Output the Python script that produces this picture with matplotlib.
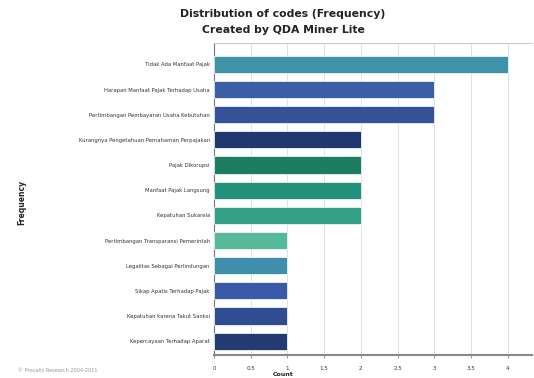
import matplotlib
matplotlib.use('Agg')
import matplotlib.pyplot as plt
import numpy as np

######################################################################
# data
codes = ['Tidak Ada Manfaat Pajak',
         'Harapan Manfaat Pajak Terhadap Usaha',
         'Pertimbangan Pembayaran Usaha Kebutuhan',
         'Kurangnya Pengetahuan Pemahaman Perpajakan',
         'Pajak Dikorupsi',
         'Manfaat Pajak Langsung',
         'Kepatuhan Sukarela',
         'Pertimbangan Transparansi Pemerintah',
         'Legalitas Sebagai Perlindungan',
         'Sikap Apatis Terhadap Pajak',
         'Kepatuhan karena Takut Sanksi',
         'Kepercayaan Terhadap Aparat']
counts = [4, 3, 3, 2, 2, 2, 2, 1, 1, 1, 1, 1]
bar_colors = ['#3f93a6', '#3a5fa6', '#34519a', '#21386e', '#1c7d60',
              '#23917a', '#32a085', '#55b99a', '#3f8fab', '#3a5aa8',
              '#2f4d90', '#233b70']
x_ticks = [0, 0.5, 1, 1.5, 2, 2.5, 3, 3.5, 4]
x_tick_labels = ['0', '0.5', '1', '1.5', '2', '2.5', '3', '3.5', '4']

######################################################################
fig = plt.figure(figsize=(5.34, 3.78), dpi=100)
ax = fig.add_axes([214 / 534, (378 - 355) / 378, 318 / 534, (355 - 43) / 378])

pos = np.arange(len(codes))
ax.barh(pos, counts, height=0.68, color=bar_colors, zorder=3,
        edgecolor='#e8f4f8', linewidth=0.6)
ax.set_ylim(len(codes) - 0.45, -0.85)
ax.set_xlim(0, 4.33)

ax.set_yticks(pos)
ax.set_yticklabels(codes, fontsize=3.8, color='#333333')
ax.set_xticks(x_ticks)
ax.set_xticklabels(x_tick_labels, fontsize=4, color='#333333')
ax.tick_params(axis='y', length=0, pad=3)
ax.tick_params(axis='x', length=2, color='#999999', pad=6)

ax.grid(axis='x', color='#dddddd', linewidth=0.6, zorder=0)
ax.spines['right'].set_visible(False)
ax.spines['top'].set_color('#cccccc')
ax.spines['left'].set_color('#777777')
ax.spines['bottom'].set_color('#888888')
ax.spines['bottom'].set_linewidth(1.5)

# axis titles
fig.text(283 / 534, 1 - 374 / 378, 'Count', fontsize=4.5, fontweight='bold',
         ha='center', va='center', color='#222222')
fig.text(22 / 534, 1 - 202 / 378, 'Frequency', rotation=90, fontsize=5.5,
         fontweight='bold', ha='center', va='center', color='#222222')

fig.text(283 / 534, 1 - 14 / 378,
         'Distribution of codes (Frequency)', fontsize=7.8, fontweight='bold',
         ha='center', va='center', color='#222222')
fig.text(283 / 534, 1 - 30 / 378,
         'Created by QDA Miner Lite', fontsize=7.8, fontweight='bold',
         ha='center', va='center', color='#222222')
fig.text(18 / 534, 1 - 371 / 378, '\u00a9 Provalis Research 2004-2011',
         fontsize=3.6, color='#999999', va='center')

fig.savefig('out.png', dpi=100)
